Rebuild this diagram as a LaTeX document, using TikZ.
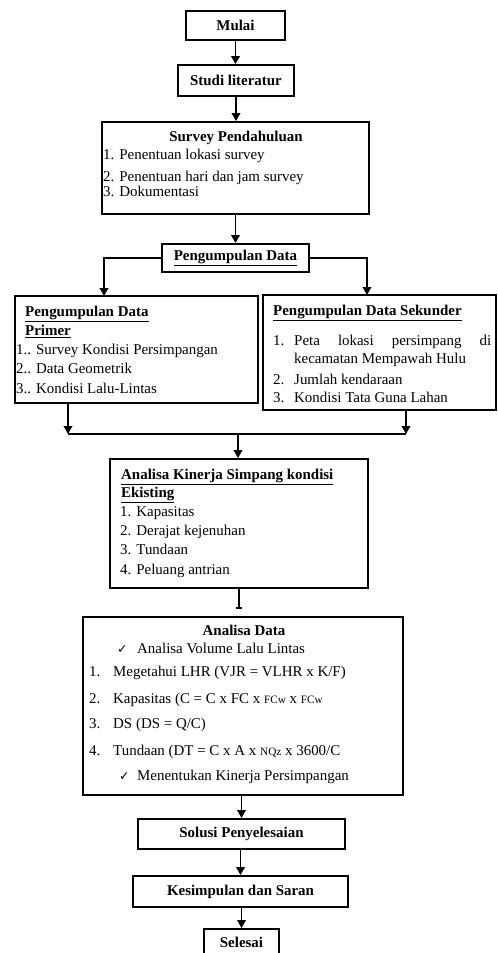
\documentclass[tikz,border=0pt]{standalone}
\usepackage{fontspec}
\setmainfont{Liberation Serif}
\newfontfamily\symfont{DejaVu Sans}
\usetikzlibrary{arrows.meta}
\newcommand\smallfc[1]{{\fontsize{11.3}{11}\selectfont #1}}
\begin{document}
\begin{tikzpicture}[x=1bp,y=-1bp,
  font=\fontsize{15}{17}\selectfont,
  box/.style={draw, line width=1.9bp, inner sep=0pt, minimum width=#1},
  box/.default=10bp,
  ttl/.style={font=\fontsize{15}{17}\selectfont\bfseries},
  txt/.style={anchor=west, inner sep=0pt, text height=10.5bp, text depth=3.2bp},
  ctxt/.style={anchor=center, inner sep=0pt, text height=10.5bp, text depth=3.2bp},
  conn/.style={line width=1.9bp},
  arr/.style={conn, -{Triangle[width=8.5bp,length=8bp]}},
  barend/.style={conn, -{Bar[width=6bp,line width=1.8bp]}}
]
\clip (0,0) rectangle (498,953);
\fill[white] (0,0) rectangle (498,953);

% boxes
\node[box=99bp, minimum height=29bp, ttl] (mulai) at (235.5,25.5) {Mulai};
\node[box=116bp, minimum height=31bp, ttl] (studi) at (236,80.5) {Studi literatur};
\node[box=267bp, minimum height=92bp] (survey) at (235.5,168) {};
\node[box=147bp, minimum height=28bp, ttl] (pd) at (235.5,258) {\underline{Pengumpulan Data}};
\node[box=243bp, minimum height=107bp] (primer) at (136.5,349.5) {};
\node[box=233bp, minimum height=115bp] (sekunder) at (379.5,352.5) {};
\node[box=258bp, minimum height=129bp] (kinerja) at (239,523.5) {};
\node[box=320bp, minimum height=178bp] (adata) at (243,706) {};
\node[box=207bp, minimum height=30bp, ttl] (solusi) at (241.5,834) {Solusi Penyelesaian};
\node[box=215bp, minimum height=31bp, ttl] (kesimpulan) at (240.5,891.5) {Kesimpulan dan Saran};
\node[box=75bp, minimum height=32bp] (selesai) at (241.5,945) {};
\node[ctxt, ttl] (selesaiT) at (241.5,944) {Selesai};

% survey text
\node[ctxt, ttl] (surveyT) at (236,138) {Survey Pendahuluan};
\node[txt] (s1) at (103,156) {1. Penentuan lokasi survey};
\node[txt] (s2) at (103,178) {2. Penentuan hari dan jam survey};
\node[txt] (s3) at (103,193) {3. Dokumentasi};

% primer text
\node[txt, ttl] (p0) at (25,313) {\underline{Pengumpulan Data}};
\node[txt, ttl] (p0b) at (25,332) {\underline{Primer}};
\node[txt] (p1) at (16,351) {1.. Survey Kondisi Persimpangan};
\node[txt] (p2) at (16,370) {2.. Data Geometrik};
\node[txt] (p3) at (16,390) {3.. Kondisi Lalu-Lintas};

% sekunder text
\node[txt, ttl] (k0) at (273,312) {\underline{Pengumpulan Data Sekunder}};
\node[txt] (k1n) at (273,342) {1.};
\node[txt] (k1) at (294,342) {\makebox[197bp][s]{Peta lokasi persimpang di}};
\node[txt] (k1b) at (294,360) {kecamatan Mempawah Hulu};
\node[txt] (k2n) at (273,381) {2.};
\node[txt] (k2) at (294,381) {Jumlah kendaraan};
\node[txt] (k3n) at (273,399) {3.};
\node[txt] (k3) at (294,399) {Kondisi Tata Guna Lahan};

% kinerja text
\node[txt, ttl] (a0) at (121,476) {\underline{Analisa Kinerja Simpang kondisi}};
\node[txt, ttl] (a0b) at (121,494) {\underline{Ekisting}};
\node[txt] (a1) at (120,513) {1. Kapasitas};
\node[txt] (a2) at (120,532) {2. Derajat kejenuhan};
\node[txt] (a3) at (120,551) {3. Tundaan};
\node[txt] (a4) at (120,571) {4. Peluang antrian};

% analisa data text
\node[ctxt, ttl] (d0) at (244,632) {Analisa Data};
\node[txt] (dc1) at (117,650) {{\symfont\fontsize{12.5}{12}\selectfont ✓}};
\node[txt] (dc1t) at (137,650) {Analisa Volume Lalu Lintas};
\node[txt] (d1n) at (89,673) {1.};
\node[txt] (d1) at (113,673) {Megetahui LHR (VJR = VLHR x K/F)};
\node[txt] (d2n) at (89,700) {2.};
\node[txt] (d2) at (113,700) {Kapasitas (C = C x FC x \smallfc{FCw} x \smallfc{FCw}};
\node[txt] (d3n) at (89,725) {3.};
\node[txt] (d3) at (113,725) {DS (DS = Q/C)};
\node[txt] (d4n) at (89,752) {4.};
\node[txt] (d4) at (113,752) {Tundaan (DT = C x A x \smallfc{NQz} x 3600/C};
\node[txt] (dc2) at (119,777) {{\symfont\fontsize{12.5}{12}\selectfont ✓}};
\node[txt] (dc2t) at (137,777) {Menentukan Kinerja Persimpangan};

% connectors
\draw[arr] (mulai.south) -- (mulai.south |- studi.north);
\draw[arr] (studi.south) -- (studi.south |- survey.north);
\draw[arr] (survey.south) -- (survey.south |- pd.north);

\coordinate (pl) at (104,296);
\coordinate (pr) at (367,295);
\draw[arr] (pd.west) -| (pl);
\draw[arr] (pd.east) -| (pr);

\coordinate (ml) at (68,434);
\coordinate (mr) at (406,434);
\coordinate (mc) at (238,434);
\draw[arr] (primer.south -| ml) -- (ml);
\draw[arr] (sekunder.south -| mr) -- (mr);
\draw[conn] (ml) -- (mr);
\draw[arr] (mc) -- (mc |- kinerja.north);

\coordinate (kd) at (239,609);
\draw[barend] (kinerja.south -| kd) -- (kd);

\draw[arr] (adata.south -| solusi.north) -- (solusi.north);
\draw[arr] (solusi.south -| kesimpulan.north) -- (kesimpulan.north);
\draw[arr] (kesimpulan.south -| selesai.north) -- (selesai.north);
\end{tikzpicture}
\end{document}
